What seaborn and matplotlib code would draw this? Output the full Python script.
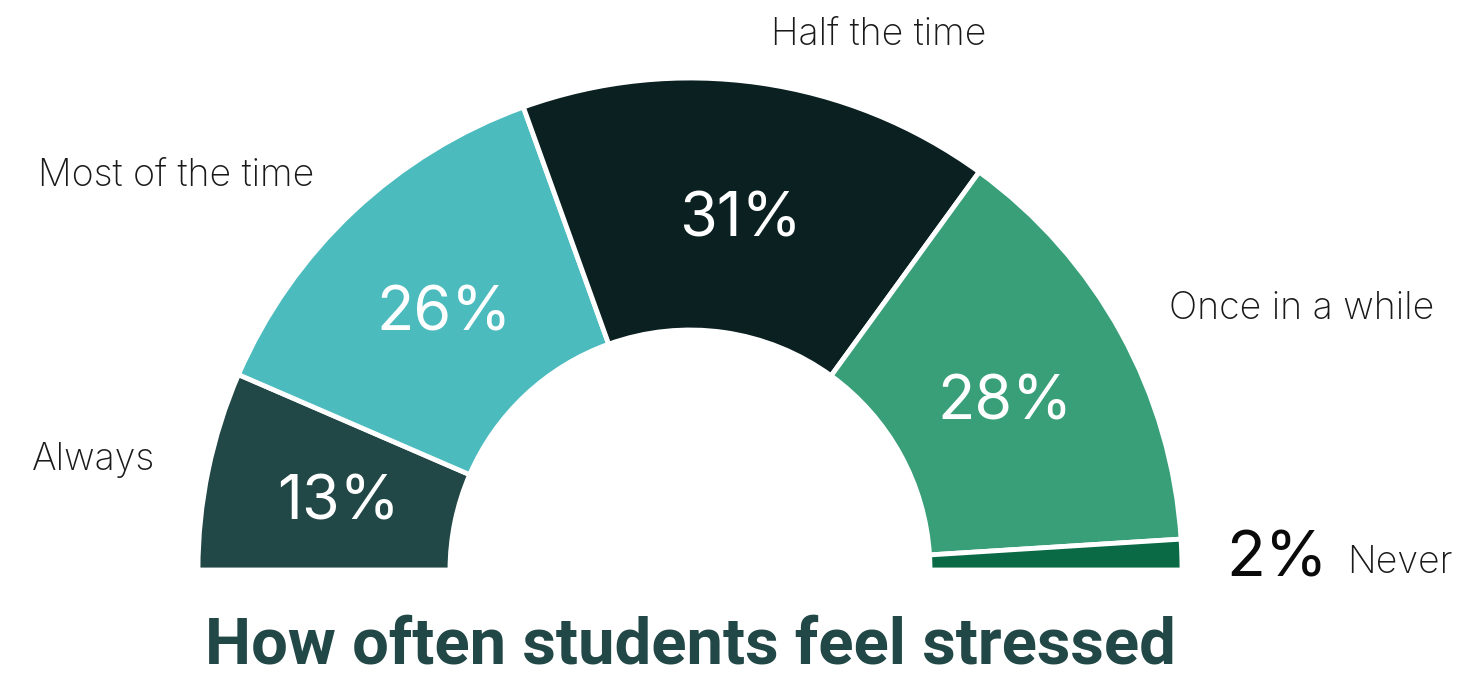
import numpy as np
import pandas as pd
import matplotlib
matplotlib.use("Agg")
import matplotlib.pyplot as plt
import seaborn as sns

# data
categories = ["Always", "Most of the time", "Half the time", "Once in a while", "Never"]
shares = [13, 26, 31, 28, 2]
colors = ["#214746", "#4BBBBE", "#0B2020", "#389F79", "#0A6A45"]
title = "How often students feel stressed"

df = pd.DataFrame({"category": categories, "share": shares})

sns.set_theme(style="white")
plt.rcParams["font.family"] = ["Inter", "DejaVu Sans"]

# pixel layout: donut centre at (690, 570) px, outer radius 492 px
W, H = 1481, 679
cx, cy, R = 690, 570, 492
fig = plt.figure(figsize=(W / 100, H / 100), dpi=100)
ax = fig.add_axes([0, 0, 1, 1])

total = df["share"].sum()
vals = list(df["share"]) + [total]  # hidden lower half
wedges, _ = ax.pie(
    vals, colors=sns.color_palette(colors) + [(1, 1, 1)],
    startangle=180, counterclock=False, radius=1,
    wedgeprops=dict(width=1 - 240 / 492, edgecolor="white", linewidth=3.5),
)
wedges[-1].set_visible(False)

ax.set_xlim(-cx / R, (W - cx) / R)
ax.set_ylim(-(H - cy) / R, cy / R)
ax.set_aspect("auto")
ax.axis("off")

cum = np.cumsum([0] + list(df["share"]))
for i, row in df.iterrows():
    mid = (cum[i] + cum[i + 1]) / 2
    theta = np.deg2rad(180 - 180 * mid / total)
    c, s = np.cos(theta), np.sin(theta)
    if row["category"] == "Never":
        ax.text(1.1 * c - 0.01, 1.1 * s, f"{row['share']}%", ha="left",
                va="center_baseline", fontsize=46, color="#0a0a0a")
        ax.annotate(row["category"], (1.1 * c, 1.1 * s), xytext=(84, -4),
                    textcoords="offset points", ha="left", va="center_baseline",
                    fontsize=27, color="#1a1a1a", fontweight="light")
        continue
    ax.text(0.73 * c, 0.73 * s, f"{row['share']}%", ha="center",
            va="center_baseline", fontsize=44, color="white")
    ax.text(1.1 * c + (0.01 if c > 0 else -0.01), 1.1 * s, row["category"],
            ha="left" if c > 0 else "right", va="center",
            fontsize=27, color="#1a1a1a", fontweight="light")

ax.text(0, -(664 - cy) / R, title, ha="center", va="baseline",
        fontsize=47, fontweight="bold", color="#214746",
        family=["Roboto", "DejaVu Sans"])

fig.savefig("out.png", dpi=100)
